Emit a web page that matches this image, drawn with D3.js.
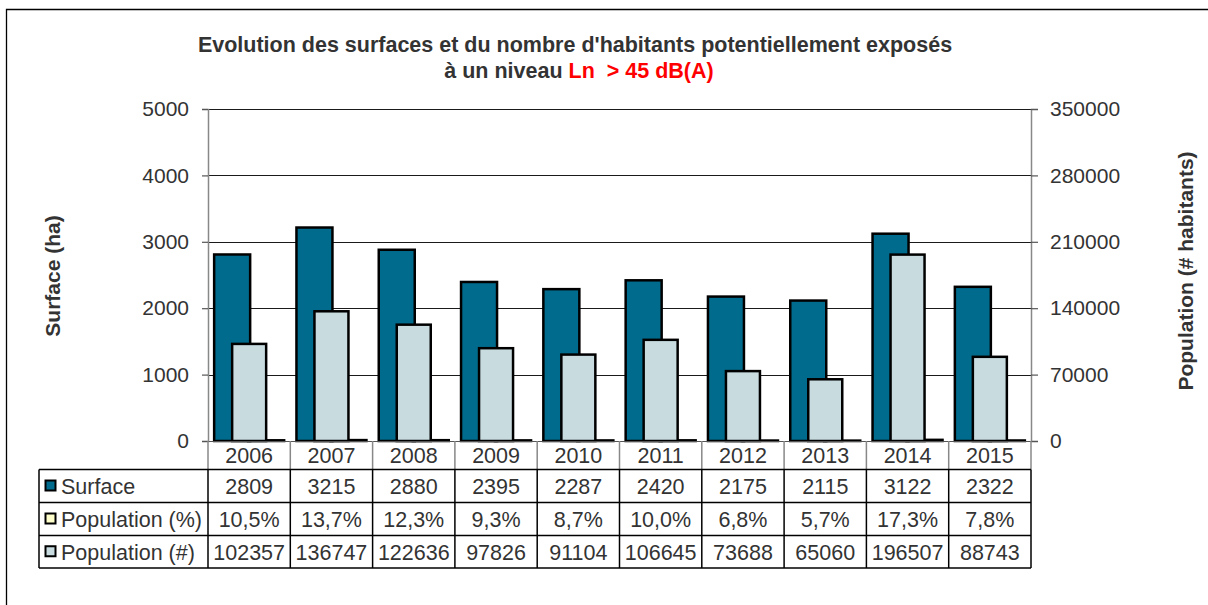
<!DOCTYPE html>
<html>
<head>
<meta charset="utf-8">
<script src="https://cdn.jsdelivr.net/npm/d3@7"></script>
<style>
  body { margin: 0; background: #fff; }
  text { font-family: "Liberation Sans", Arial, sans-serif; fill: #333; }
</style>
</head>
<body>
<svg id="chart" width="1208" height="605"></svg>
<script>
var years = ["2006", "2007", "2008", "2009", "2010", "2011", "2012", "2013", "2014", "2015"];
var surface = [2809, 3215, 2880, 2395, 2287, 2420, 2175, 2115, 3122, 2322];
var popPct = [10.5, 13.7, 12.3, 9.3, 8.7, 10.0, 6.8, 5.7, 17.3, 7.8];
var popNum = [102357, 136747, 122636, 97826, 91104, 106645, 73688, 65060, 196507, 88743];
var leftTicks = [0, 1000, 2000, 3000, 4000, 5000];
var rightTicks = [0, 70000, 140000, 210000, 280000, 350000];

var colSurface = "#006b8c";
var colPct = "#ffffcc";
var colNum = "#c8dce0";

var svg = d3.select("#chart");

// outer frame (runs off the right and bottom of the picture)
svg.append("path")
  .attr("d", "M6.5,620 V9.5 H1220")
  .attr("fill", "none")
  .attr("stroke", "#000")
  .attr("stroke-width", 1.3);

var plotLeft = 208, plotRight = 1031, plotTop = 109, plotBottom = 441;

var x = d3.scaleBand().domain(years).range([plotLeft, plotRight]).padding(0);
var yL = d3.scaleLinear().domain([0, 5000]).range([plotBottom, plotTop]);
var yR = d3.scaleLinear().domain([0, 350000]).range([plotBottom, plotTop]);

// title
svg.append("text")
  .attr("x", 575).attr("y", 52)
  .attr("text-anchor", "middle")
  .style("font-size", "21.5px").style("font-weight", "bold")
  .text("Evolution des surfaces et du nombre d'habitants potentiellement exposés");
var t2 = svg.append("text")
  .attr("x", 579).attr("y", 78)
  .attr("text-anchor", "middle")
  .style("font-size", "21.5px").style("font-weight", "bold");
t2.append("tspan").text("à un niveau ");
t2.append("tspan").style("fill", "#ff0000").text("Ln \u00a0> 45 dB(A)");

// gridlines
svg.append("g").selectAll("line")
  .data(leftTicks.slice(1))
  .enter().append("line")
    .attr("x1", plotLeft).attr("x2", plotRight)
    .attr("y1", function(d) { return Math.round(yL(d)) + 0.5; })
    .attr("y2", function(d) { return Math.round(yL(d)) + 0.5; })
    .attr("stroke", "#1a1a1a").attr("stroke-width", 1);

// bars
var bw = 36;
var g = svg.append("g");
years.forEach(function(yr, i) {
  var c = x(yr) + x.bandwidth() / 2;
  g.append("rect")
    .attr("x", c - 35).attr("width", bw)
    .attr("y", yL(surface[i])).attr("height", plotBottom - yL(surface[i]))
    .attr("fill", colSurface).attr("stroke", "#000").attr("stroke-width", 2.5);
  g.append("rect")
    .attr("x", c - 1).attr("width", bw)
    .attr("y", yL(popPct[i])).attr("height", plotBottom - yL(popPct[i]))
    .attr("fill", colPct).attr("stroke", "#000").attr("stroke-width", 2.5);
  g.append("rect")
    .attr("x", c - 17).attr("width", 34)
    .attr("y", yR(popNum[i])).attr("height", plotBottom - yR(popNum[i]))
    .attr("fill", colNum).attr("stroke", "#000").attr("stroke-width", 2.5);
});

// axes
var axL = svg.append("g").attr("transform", "translate(" + plotLeft + ",0)")
  .call(d3.axisLeft(yL).tickValues(leftTicks).tickFormat(d3.format("d")).tickSize(6).tickPadding(13));
var axR = svg.append("g").attr("transform", "translate(" + plotRight + ",0)")
  .call(d3.axisRight(yR).tickValues(rightTicks).tickFormat(d3.format("d")).tickSize(7).tickPadding(12));
[axL, axR].forEach(function(ax) {
  ax.select(".domain").attr("stroke", "#888").attr("stroke-width", 1.5);
  ax.selectAll(".tick line").attr("stroke", "#555").attr("stroke-width", 1.2);
  ax.selectAll(".tick text")
    .style("font-size", "21px")
    .style("font-family", "'Liberation Sans', Arial, sans-serif")
    .attr("fill", "#333");
});

// baseline
svg.append("line")
  .attr("x1", plotLeft - 6).attr("x2", plotRight + 7)
  .attr("y1", plotBottom + 0.5).attr("y2", plotBottom + 0.5)
  .attr("stroke", "#555").attr("stroke-width", 1.2);

// axis titles
svg.append("text")
  .attr("transform", "translate(60,276) rotate(-90)")
  .attr("text-anchor", "middle")
  .style("font-size", "21px").style("font-weight", "bold")
  .text("Surface (ha)");
svg.append("text")
  .attr("transform", "translate(1193,271) rotate(-90)")
  .attr("text-anchor", "middle")
  .style("font-size", "21px").style("font-weight", "bold")
  .text("Population (# habitants)");

// data table
var fmtPct = function(v) { return v.toFixed(1).replace(".", ",") + "%"; };
var rows = [
  { label: "Surface", color: colSurface, values: surface.map(String) },
  { label: "Population (%)", color: colPct, values: popPct.map(fmtPct) },
  { label: "Population (#)", color: colNum, values: popNum.map(String) }
];
var rowY = [441, 469.5, 502.5, 535.5, 568];
var tableLeft = 39;
var fs = "21.5px";

var tg = svg.append("g");
years.forEach(function(yr) {
  tg.append("text")
    .attr("x", x(yr) + x.bandwidth() / 2).attr("y", (rowY[0] + rowY[1]) / 2 + 8)
    .attr("text-anchor", "middle").style("font-size", fs)
    .text(yr);
});
// year row verticals (grey)
tg.selectAll("line.yv")
  .data(d3.range(years.length + 1))
  .enter().append("line")
    .attr("x1", function(d) { return plotLeft + d * x.bandwidth(); })
    .attr("x2", function(d) { return plotLeft + d * x.bandwidth(); })
    .attr("y1", rowY[0]).attr("y2", rowY[1])
    .attr("stroke", "#888").attr("stroke-width", 1.5);

rows.forEach(function(r, j) {
  var y0 = rowY[j + 1], y1 = rowY[j + 2], cy = (y0 + y1) / 2;
  tg.append("rect")
    .attr("x", 45.5).attr("y", cy - 5.5).attr("width", 10).attr("height", 10)
    .attr("fill", r.color).attr("stroke", "#000").attr("stroke-width", 2);
  tg.append("text")
    .attr("x", 61).attr("y", cy + 8)
    .style("font-size", fs)
    .text(r.label);
  r.values.forEach(function(v, i) {
    tg.append("text")
      .attr("x", x(years[i]) + x.bandwidth() / 2).attr("y", cy + 8)
      .attr("text-anchor", "middle").style("font-size", fs)
      .text(v);
  });
});
// table grid (black)
for (var k = 1; k < rowY.length; k++) {
  tg.append("line")
    .attr("x1", tableLeft).attr("x2", plotRight)
    .attr("y1", rowY[k]).attr("y2", rowY[k])
    .attr("stroke", "#000").attr("stroke-width", 1.5);
}
tg.append("line")
  .attr("x1", tableLeft).attr("x2", tableLeft)
  .attr("y1", rowY[1]).attr("y2", rowY[4])
  .attr("stroke", "#000").attr("stroke-width", 1.5);
for (var c = 0; c <= years.length; c++) {
  tg.append("line")
    .attr("x1", plotLeft + c * x.bandwidth()).attr("x2", plotLeft + c * x.bandwidth())
    .attr("y1", rowY[1]).attr("y2", rowY[4])
    .attr("stroke", "#000").attr("stroke-width", 1.5);
}
</script>
</body>
</html>
